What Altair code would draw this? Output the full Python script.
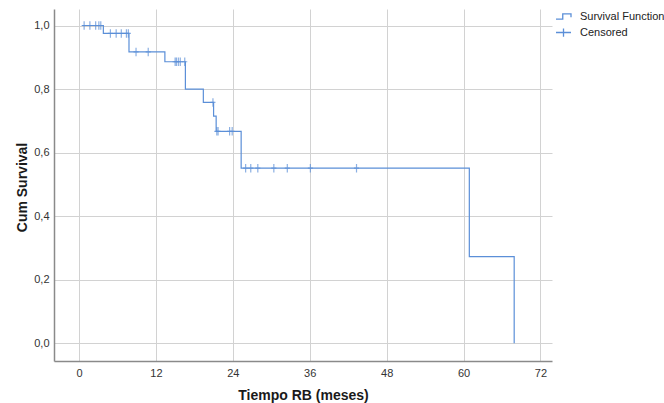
import altair as alt
import pandas as pd

# Kaplan-Meier estimate: times (months) where the curve steps, and the level after each step
event_times = [0.5, 3.8, 7.8, 13.4, 16.6, 19.4, 21.0, 21.4, 25.3, 60.9, 67.9]
survival = [1.0, 0.975, 0.917, 0.886, 0.80, 0.758, 0.715, 0.667, 0.551, 0.273, 0.0]

# censored observations (months)
censor_times = [0.8, 1.7, 2.6, 3.1, 3.4, 4.9, 5.8, 6.6, 7.4, 7.7, 8.9, 10.8,
                15.0, 15.2, 15.5, 15.8, 16.5, 20.9, 21.5, 21.7, 23.5, 23.9,
                26.0, 26.8, 27.9, 30.4, 32.5, 36.1, 43.3]

x_ticks = [0, 12, 24, 36, 48, 60, 72]
y_ticks = [0.0, 0.2, 0.4, 0.6, 0.8, 1.0]
legend_labels = ["Survival Function", "Censored"]


def level_at(t):
    """Survival level of the step curve at time t."""
    s = survival[0]
    for et, sv in zip(event_times, survival):
        if et <= t:
            s = sv
    return s


curve = pd.DataFrame({"t": event_times, "s": survival})
cens = pd.DataFrame({"t": censor_times, "s": [level_at(t) for t in censor_times]})
key_df = pd.DataFrame({"kind": legend_labels, "t": [0, 0], "s": [1, 1]})

BLUE = "#5b8fd8"
FONT = "Liberation Sans"
STEP_ICON = "M-1,0.35H-0.1V-0.35H1V0.1"
CROSS_ICON = "M-1,0H1M0,-0.55V0.55"
CROSS_MARK = "M-0.6,0H0.6M0,-1V1"

x_scale = alt.Scale(domain=[-3.9, 73.8], nice=False, zero=False)
y_scale = alt.Scale(domain=[-0.0557, 1.052], nice=False, zero=False)

x_enc = alt.X(
    "t:Q",
    scale=x_scale,
    axis=alt.Axis(
        values=x_ticks,
        format="d",
        title="Tiempo RB (meses)",
        titleY=34,
        titleBaseline="middle",
    ),
)
y_enc = alt.Y(
    "s:Q",
    scale=y_scale,
    axis=alt.Axis(
        values=y_ticks,
        labelExpr="replace(format(datum.value, '.1f'), '.', ',')",
        title="Cum Survival",
        titleX=-32,
        titleY=178,
        titleBaseline="middle",
    ),
)

line = alt.Chart(curve).mark_line(
    interpolate="step-after", color=BLUE, strokeWidth=1.2
).encode(x=x_enc, y=y_enc)

censored = alt.Chart(cens).mark_point(
    shape=CROSS_MARK, size=72, color=BLUE, filled=False, strokeWidth=1.2
).encode(x="t:Q", y="s:Q")

key = alt.Chart(key_df).mark_point(opacity=0, filled=False, color=BLUE).encode(
    x="t:Q",
    y="s:Q",
    shape=alt.Shape(
        "kind:N",
        scale=alt.Scale(domain=legend_labels, range=[STEP_ICON, CROSS_ICON]),
        legend=alt.Legend(
            title=None,
            orient="none",
            legendX=501,
            legendY=-1,
            padding=0,
            symbolSize=225,
            symbolOpacity=1,
            symbolStrokeColor=BLUE,
            symbolFillColor="transparent",
            symbolStrokeWidth=1.3,
            labelFont=FONT,
            labelFontSize=11,
            labelColor="#222222",
            labelOffset=8,
            labelLimit=200,
            rowPadding=2,
        ),
    ),
)

chart = (
    alt.layer(line, censored, key)
    .properties(
        width=498,
        height=352,
        autosize=alt.AutoSizeParams(type="none"),
        padding={"left": 54, "top": 9, "right": 112, "bottom": 42},
        background="white",
    )
    .configure_view(stroke=None)
    .configure_axis(
        grid=True,
        gridColor="#d2d2d2",
        gridWidth=1,
        domainColor="#8a8a8a",
        domainWidth=1.5,
        ticks=False,
        labelFont=FONT,
        labelFontSize=11,
        labelColor="#333333",
        labelPadding=5,
        titleFont=FONT,
        titleFontSize=14,
        titleFontWeight="bold",
        titleColor="#1a1a1a",
    )
    .configure_axisX(labelPadding=6)
)

chart.save("out.html", embed_options={"renderer": "svg", "actions": False})
